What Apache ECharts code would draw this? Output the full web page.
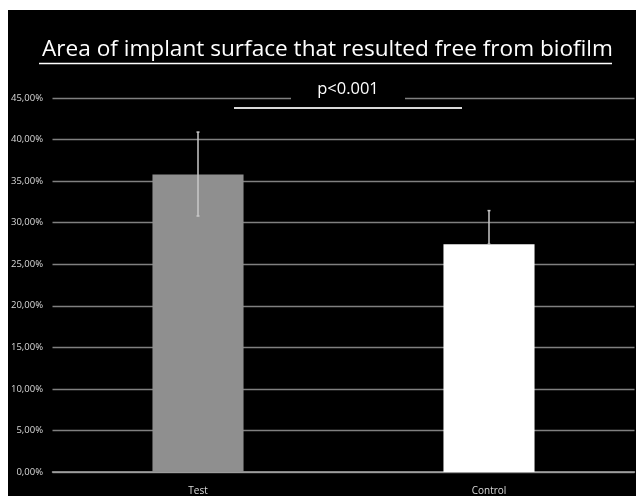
<!DOCTYPE html>
<html>
<head>
<meta charset="utf-8">
<script src="https://cdn.jsdelivr.net/npm/echarts@6/dist/echarts.min.js"></script>
<style>
  html, body { margin: 0; padding: 0; background: #ffffff; }
  #bg { position: absolute; left: 8px; top: 10px; width: 628px; height: 486px; background: #000000; }
  #chart { position: absolute; left: 0; top: 0; width: 636px; height: 496px; }
</style>
</head>
<body>
<div id="bg"></div>
<div id="chart"></div>
<script>
const categories = ['Test', 'Control'];
const meanValues = [35.8, 27.4];
const errPlus = [5.1, 4.05];
const errMinus = [5.0, 0];
const yTicks = { min: 0, max: 45, interval: 5 };
const titleText = 'Area of implant surface that resulted free from biofilm';
const pText = 'p<0.001';

const chart = echarts.init(document.getElementById('chart'));
const errData = categories.map((c, i) => [i, meanValues[i] - errMinus[i], meanValues[i] + errPlus[i]]);

chart.setOption({
  backgroundColor: 'transparent',
  animation: false,
  textStyle: { fontFamily: 'Open Sans' },
  title: {
    text: titleText,
    left: 322.5, top: 33, textAlign: 'center',
    textStyle: { color: '#ffffff', fontSize: 22.6, fontWeight: 'normal', fontFamily: 'Open Sans' }
  },
  grid: { left: 52.5, right: 1.5, top: 98, bottom: 24, containLabel: false },
  xAxis: {
    type: 'category',
    data: categories,
    axisLine: { lineStyle: { color: '#a6a6a6', width: 1.5 } },
    axisTick: { show: false },
    axisLabel: { color: '#d9d9d9', fontSize: 10, margin: 14 }
  },
  yAxis: {
    type: 'value',
    min: yTicks.min, max: yTicks.max, interval: yTicks.interval,
    axisLine: { show: false },
    axisTick: { show: false },
    splitLine: { lineStyle: { color: '#808080', width: 1.3 } },
    axisLabel: {
      color: '#d9d9d9', fontSize: 9.5, margin: 9.5,
      formatter: v => v.toFixed(2).replace('.', ',') + '%'
    }
  },
  series: [
    {
      type: 'bar',
      data: meanValues.map((v, i) => ({ value: v, itemStyle: { color: i === 0 ? '#8f8f8f' : '#ffffff' } })),
      barWidth: '31.3%',
      z: 2
    },
    {
      type: 'custom',
      data: errData,
      z: 5,
      renderItem: function (params, api) {
        const x = api.coord([api.value(0), 0])[0];
        const lo = api.coord([api.value(0), api.value(1)])[1];
        const hi = api.coord([api.value(0), api.value(2)])[1];
        const cap = 1.5;
        const st = { stroke: '#c8c8c8', lineWidth: 1.5 };
        return {
          type: 'group',
          children: [
            { type: 'line', shape: { x1: x, y1: lo, x2: x, y2: hi }, style: st },
            { type: 'line', shape: { x1: x - cap, y1: hi, x2: x + cap, y2: hi }, style: st },
            { type: 'line', shape: { x1: x - cap, y1: lo, x2: x + cap, y2: lo }, style: st }
          ]
        };
      }
    }
  ],
  graphic: [
    { type: 'line', shape: { x1: 39, y1: 63.5, x2: 612, y2: 63.5 }, style: { stroke: '#ffffff', lineWidth: 1.5 }, z: 10 },
    { type: 'rect', shape: { x: 291, y: 78, width: 114, height: 25 }, style: { fill: '#000000' }, z: 10 },
    { type: 'text', x: 348, y: 89, style: { text: pText, fill: '#ffffff', fontSize: 16.5, fontFamily: 'Open Sans', align: 'center', verticalAlign: 'middle' }, z: 11 },
    { type: 'line', shape: { x1: 234, y1: 108, x2: 462, y2: 108 }, style: { stroke: '#d9d9d9', lineWidth: 2 }, z: 10 }
  ]
});
</script>
</body>
</html>
